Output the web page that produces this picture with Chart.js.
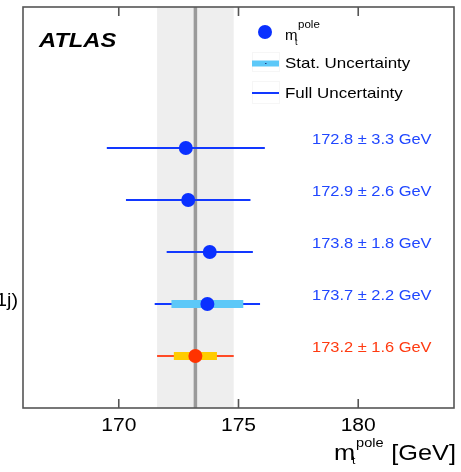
<!DOCTYPE html>
<html>
<head>
<meta charset="utf-8">
<script src="https://cdn.jsdelivr.net/npm/chart.js@4/dist/chart.umd.min.js"></script>
<style>
  html, body { margin: 0; padding: 0; background: #fff; }
  #wrap { width: 461px; height: 472px; }
</style>
</head>
<body>
<div id="wrap"><canvas id="c" width="461" height="472"></canvas></div>
<script>
// Top-quark pole mass results, one row per measurement (top to bottom);
// the last row is the combination.
const rows      = [0, 1, 2, 3, 4];
const rowLabels = ['', '', '', '1j)', ''];
const masses    = [172.8, 172.9, 173.8, 173.7, 173.2];
const fullErr   = [3.3, 2.6, 1.8, 2.2, 1.6];
const statErr   = [null, null, null, 1.5, 0.9];
const xTicks    = [170, 175, 180];
const combIndex = 4;

const BLUE = '#0a30ff', BLUE_TXT = '#2047ff', RED = '#ff3300', RED_TXT = '#ff3a10';
const STAT_BLUE = '#5cc8f8', STAT_YELLOW = '#ffcc00';
const FONT = '"Liberation Sans", Arial, Helvetica, sans-serif';

const markColor = i => (i === combIndex ? RED : BLUE);
const lineColor = i => (i === combIndex ? '#ff4a26' : '#1238ff');
const statColor = i => (i === combIndex ? STAT_YELLOW : STAT_BLUE);

const datasets = [];
// points on top
datasets.push({
  data: rows.map(i => ({ x: masses[i], y: i })),
  pointRadius: 7, pointHoverRadius: 7, pointBorderWidth: 0,
  pointBackgroundColor: rows.map(markColor),
  showLine: false, order: 0
});
// statistical uncertainty bands
rows.forEach(i => {
  if (statErr[i] == null) return;
  datasets.push({
    data: [{ x: masses[i] - statErr[i], y: i }, { x: masses[i] + statErr[i], y: i }],
    showLine: true, borderColor: statColor(i), borderWidth: 8, borderCapStyle: 'butt',
    pointRadius: 0, order: 1
  });
});
// full uncertainty bars
rows.forEach(i => {
  datasets.push({
    data: [{ x: masses[i] - fullErr[i], y: i }, { x: masses[i] + fullErr[i], y: i }],
    showLine: true, borderColor: lineColor(i), borderWidth: 2, borderCapStyle: 'butt',
    pointRadius: 0, order: 2
  });
});

function txt(ctx, s, x, y, font, color, align, sx) {
  ctx.save();
  ctx.font = font;
  ctx.fillStyle = color;
  ctx.textBaseline = 'alphabetic';
  ctx.textAlign = 'left';
  const w = ctx.measureText(s).width * sx;
  const x0 = align === 'center' ? x - w / 2 : align === 'right' ? x - w : x;
  ctx.translate(x0, y);
  ctx.scale(sx, 1);
  ctx.fillText(s, 0, 0);
  ctx.restore();
  return w;
}

const backdrop = {
  id: 'backdrop',
  beforeDatasetsDraw(chart) {
    const { ctx, chartArea: a, scales: { x } } = chart;
    const m = masses[combIndex], e = fullErr[combIndex];
    ctx.save();
    ctx.fillStyle = '#eeeeee';
    const l = x.getPixelForValue(m - e), r = x.getPixelForValue(m + e);
    ctx.fillRect(l, a.top, r - l, a.bottom - a.top);
    ctx.strokeStyle = '#9a9a9a';
    ctx.lineWidth = 3.5;
    const cx = x.getPixelForValue(m);
    ctx.beginPath(); ctx.moveTo(cx, a.top); ctx.lineTo(cx, a.bottom); ctx.stroke();
    ctx.restore();
  }
};

const decorations = {
  id: 'decorations',
  afterDraw(chart) {
    const { ctx, chartArea: a, scales: { x, y } } = chart;
    ctx.save();
    // frame and inward ticks
    ctx.strokeStyle = '#555';
    ctx.lineWidth = 1.6;
    ctx.strokeRect(a.left, a.top, a.right - a.left, a.bottom - a.top);
    xTicks.forEach(t => {
      const px = x.getPixelForValue(t);
      ctx.beginPath();
      ctx.moveTo(px, a.bottom); ctx.lineTo(px, a.bottom - 9);
      ctx.moveTo(px, a.top); ctx.lineTo(px, a.top + 9);
      ctx.stroke();
      txt(ctx, String(t), px, a.bottom + 23, '18px ' + FONT, '#000', 'center', 1.17);
    });

    // axis title  m_t^pole [GeV]
    let w = txt(ctx, 'm', 334, 460, '22px ' + FONT, '#000', 'left', 1.15);
    txt(ctx, 'pole', 334 + w + 1, 447, '13px ' + FONT, '#000', 'left', 1.12);
    txt(ctx, 't', 334 + w - 3, 464, '11px ' + FONT, '#000', 'left', 1.1);
    txt(ctx, '[GeV]', 456, 460, '22px ' + FONT, '#000', 'right', 1.15);

    // ATLAS label
    txt(ctx, 'ATLAS', 39, 47, 'italic bold 21px ' + FONT, '#000', 'left', 1.13);

    // legend
    ctx.fillStyle = BLUE;
    ctx.beginPath(); ctx.arc(265, 32, 7, 0, Math.PI * 2); ctx.fill();
    w = txt(ctx, 'm', 285, 39.5, '15px ' + FONT, '#000', 'left', 1.0);
    txt(ctx, 'pole', 285 + w + 0.5, 28, '11px ' + FONT, '#000', 'left', 1.05);
    txt(ctx, 't', 285 + w - 2.5, 45, '9px ' + FONT, '#000', 'left', 1.0);

    ctx.strokeStyle = '#f6f6f6'; ctx.lineWidth = 1;
    ctx.strokeRect(252.5, 52.5, 27, 19);
    ctx.strokeRect(252.5, 81.5, 27, 22);
    ctx.fillStyle = STAT_BLUE;
    ctx.fillRect(252, 60.5, 27, 6);
    ctx.fillStyle = '#2a3a80';
    ctx.fillRect(265, 63, 1.5, 1);
    txt(ctx, 'Stat. Uncertainty', 285, 68.3, '15px ' + FONT, '#000', 'left', 1.13);

    ctx.strokeStyle = '#1238ff'; ctx.lineWidth = 2;
    ctx.beginPath(); ctx.moveTo(252, 93); ctx.lineTo(279, 93); ctx.stroke();
    txt(ctx, 'Full Uncertainty', 285, 98.3, '15px ' + FONT, '#000', 'left', 1.13);

    // per-row result labels
    rows.forEach(i => {
      const py = y.getPixelForValue(i);
      const s = masses[i].toFixed(1) + ' \u00b1 ' + fullErr[i].toFixed(1) + ' GeV';
      txt(ctx, s, 312, py - 3.5, '15.5px ' + FONT, i === combIndex ? RED_TXT : BLUE_TXT, 'left', 1.06);
      if (rowLabels[i]) txt(ctx, rowLabels[i], 18, py + 2.5, '18px ' + FONT, '#000', 'right', 1.1);
    });
    ctx.restore();
  }
};

new Chart(document.getElementById('c'), {
  type: 'scatter',
  data: { datasets },
  options: {
    responsive: false,
    animation: false,
    devicePixelRatio: 1,
    layout: { padding: { left: 23, right: 6, top: 7, bottom: 64 } },
    plugins: { legend: { display: false }, tooltip: { enabled: false } },
    events: [],
    scales: {
      x: { type: 'linear', min: 166, max: 184, display: false,
           afterBuildTicks: s => { s.ticks = xTicks.map(v => ({ value: v })); } },
      y: { type: 'linear', min: -2.71, max: 5, reverse: true, display: false }
    }
  },
  plugins: [backdrop, decorations]
});
</script>
</body>
</html>
